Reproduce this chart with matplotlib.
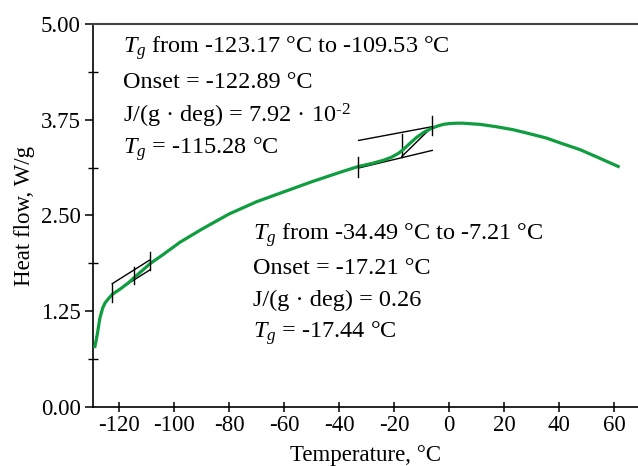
import numpy as np
import matplotlib.pyplot as plt
from matplotlib.ticker import MultipleLocator

plt.rcParams['font.family'] = 'Liberation Serif'
plt.rcParams['mathtext.fontset'] = 'custom'
plt.rcParams['mathtext.rm'] = 'Liberation Serif'
plt.rcParams['mathtext.it'] = 'Liberation Serif:italic'

# DSC curve
temp = [-128.8, -128.3, -127.8, -127.0, -126.0, -125.1, -123.5, -122.5, -120, -117, -114.2,
        -111, -108.8, -104, -97.9, -90, -80, -70, -60, -50, -40,
        -33, -28, -24, -21, -18.5, -16.7, -14, -11.8, -9, -6.3, -4, -2, 0, 2.75, 5, 7, 11.2,
        17, 23.3, 29, 35.5, 41, 47.6, 54, 61.5]
heat = [0.79, 0.88, 0.98, 1.16, 1.29, 1.36, 1.43, 1.47, 1.53, 1.61, 1.70,
        1.80, 1.87, 1.99, 2.15, 2.32, 2.52, 2.68, 2.81, 2.94, 3.06,
        3.14, 3.18, 3.22, 3.26, 3.31, 3.36, 3.45, 3.52, 3.59, 3.64, 3.67, 3.69, 3.70, 3.705, 3.705, 3.70, 3.69,
        3.66, 3.62, 3.57, 3.51, 3.44, 3.36, 3.26, 3.14]

# glass transition construction lines
tg1_upper = ([-122.5, -108.8], [1.61, 1.92])
tg1_lower = ([-122.5, -108.8], [1.48, 1.79])
tg1_ticks = [(-122.5, 1.37, 1.61), (-114.5, 1.60, 1.83), (-108.8, 1.79, 2.02)]

tg2_upper = ([-32.9, -6.1], [3.48, 3.66])
tg2_lower = ([-32.9, -6.1], [3.12, 3.35])
tg2_vert = ([-17.2, -17.2], [3.27, 3.57])
tg2_diag = ([-17.2, -6.1], [3.27, 3.66])
tg2_ticks = [(-33.0, 3.00, 3.26), (-6.1, 3.55, 3.80)]

text1 = [r'$T_g$ from -123.17 °C to -109.53 °C',
         'Onset = -122.89 °C',
         r'J/(g · deg) = 7.92 · 10$^{\text{-2}}$',
         r'$T_g$ = -115.28 °C']
text2 = [r'$T_g$ from -34.49 °C to -7.21 °C',
         'Onset = -17.21 °C',
         'J/(g · deg) = 0.26',
         r'$T_g$ = -17.44 °C']

fig = plt.figure(figsize=(6.38, 4.66), dpi=100)
ax = fig.add_axes([93 / 638, 1 - 407 / 466, (638 - 93) / 638, (407 - 24) / 466])

ax.plot(temp, heat, color='#0f9d3f', lw=2.3, zorder=3, solid_joinstyle='round')

for xs, ys in [tg1_upper, tg1_lower, tg2_upper, tg2_lower, tg2_vert, tg2_diag]:
    ax.plot(xs, ys, color='black', lw=1.0, zorder=2)
for x, y0, y1 in tg1_ticks + tg2_ticks:
    ax.plot([x, x], [y0, y1], color='black', lw=1.0, zorder=4)

for i, s in enumerate(text1):
    ax.text(-118.6, [4.69, 4.23, 3.80, 3.37][i], s, fontsize=17.5, va='center')
for i, s in enumerate(text2):
    ax.text(-71.3, [2.24, 1.81, 1.39, 0.97][i], s, fontsize=17.5, va='center')

ax.set_xlim(-129.5, 68.7)
ax.set_ylim(0, 5)
ax.set_xticks(np.arange(-120, 61, 20))
ax.set_xticklabels([str(v) for v in range(-120, 61, 20)])
ax.set_yticks([0, 1.25, 2.5, 3.75, 5.0])
ax.set_yticklabels(['0.00', '1.25', '2.50', '3.75', '5.00'])
ax.yaxis.set_minor_locator(MultipleLocator(0.625))

ax.spines['right'].set_visible(False)
ax.spines['top'].set_color('#444444')
ax.spines['top'].set_linewidth(1.5)
for s in ['left', 'bottom']:
    ax.spines[s].set_linewidth(1.2)

ax.tick_params(axis='x', direction='inout', length=7, width=1.1, labelsize=16.5, pad=2)
ax.tick_params(axis='y', which='major', direction='out', length=6, width=1.1, labelsize=16.5, pad=3)
ax.tick_params(axis='y', which='minor', direction='inout', length=7, width=1.0)

ax.set_xlabel('Temperature, °C', fontsize=16.5, labelpad=7)
ax.set_ylabel('Heat flow, W/g', fontsize=16.5, labelpad=4)

fig.savefig('out.png', dpi=100)
